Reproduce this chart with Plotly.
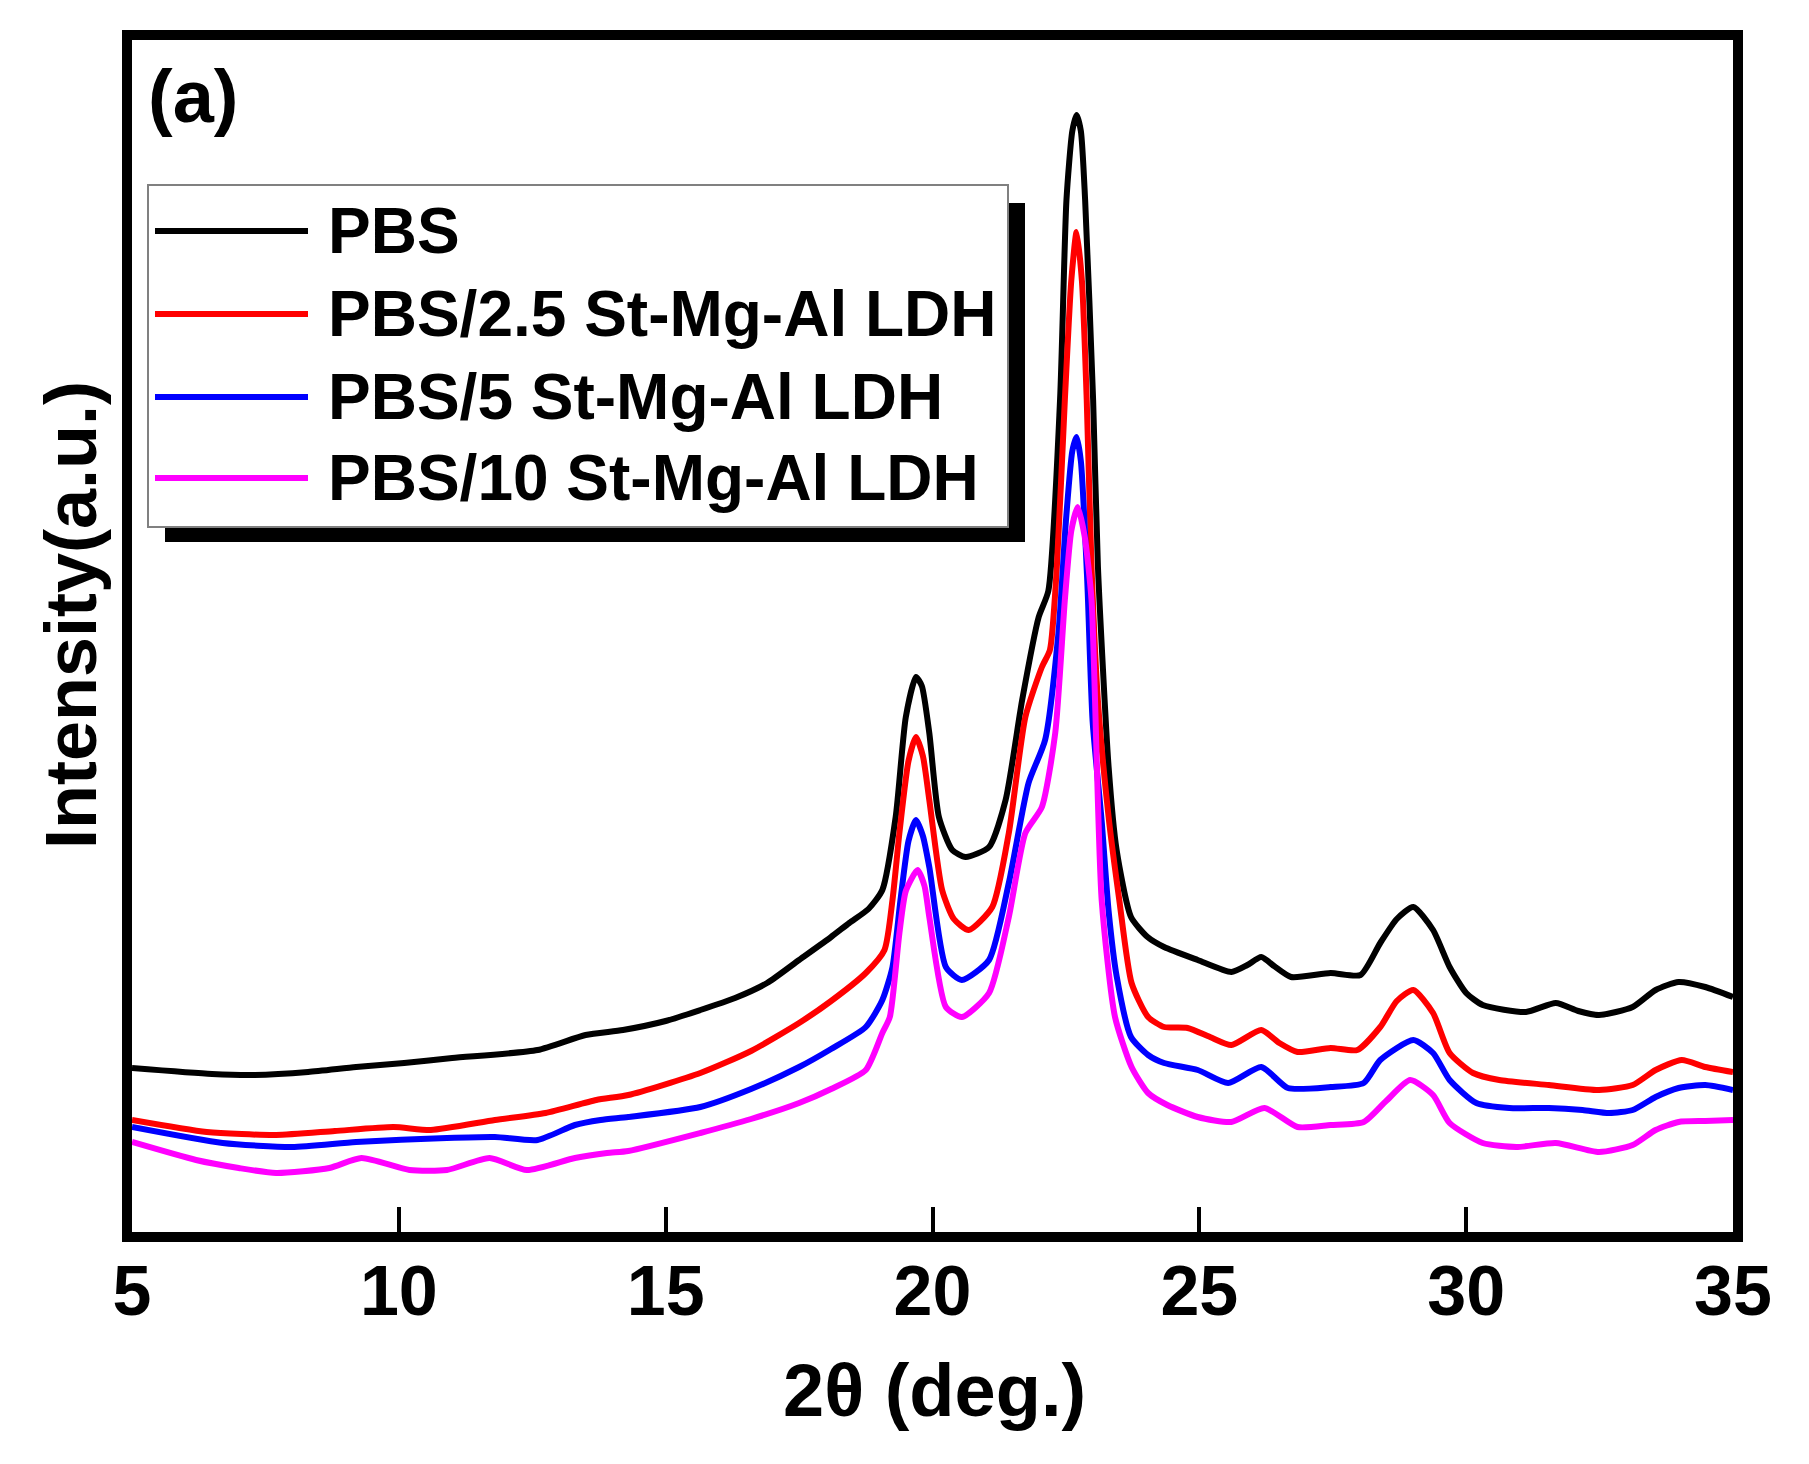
import plotly.graph_objects as go

# ---------------- data (2theta in degrees, intensity in arbitrary units) ----------------
pbs_x = [5.0, 6.5, 7.3, 8.3, 9.2, 10.1, 11.0, 12.6, 13.5, 14.2, 15.0, 15.65, 16.3, 16.9, 17.5, 18.1,
         18.44, 18.8, 19.06, 19.31, 19.5, 19.69, 19.8, 19.94, 20.12, 20.37, 20.62, 21.06, 21.37, 21.68,
         21.99, 22.17, 22.39, 22.51, 22.62, 22.70, 22.78, 22.86, 23.01, 23.1, 23.3, 23.45, 23.72, 24.03,
         24.34, 24.97, 25.6, 25.9, 26.16, 26.4, 26.72, 27.46, 28.02, 28.39, 28.7, 29.01, 29.38, 29.69,
         30.0, 30.31, 31.12, 31.68, 32.1, 32.49, 33.12, 33.55, 33.98, 34.48, 35.0]
pbs_y = [173, 167, 166, 169, 174, 178, 183, 191, 206, 211, 220, 231, 243, 258, 281, 304,
         318, 332, 351, 424, 524, 564, 555, 508, 424, 391, 384, 394, 441, 541,
         624, 650, 841, 1041, 1110, 1126, 1110, 1041, 841, 674, 474, 391, 324, 304,
         294, 281, 269, 276, 284, 275, 264, 268, 266, 298, 322, 334, 311, 274,
         248, 236, 229, 238, 230, 226, 234, 251, 259, 254, 244]

ldh25_x = [5.0, 6.4, 7.7, 8.8, 9.9, 10.6, 11.8, 12.75, 13.7, 14.3, 15.65, 16.6, 17.5, 18.1, 18.75,
           19.1, 19.25, 19.38, 19.55, 19.69, 19.82, 19.94, 20.18, 20.4, 20.68, 21.12, 21.43, 21.74,
           22.05, 22.2, 22.33, 22.48, 22.6, 22.70, 22.8, 22.89, 22.98, 23.1, 23.3, 23.5, 23.73, 24.04,
           24.34, 24.78, 25.2, 25.6, 26.16, 26.5, 26.84, 27.46, 27.96, 28.39, 28.7, 29.01, 29.38,
           29.69, 30.13, 30.62, 31.55, 32.49, 33.12, 33.55, 34.04, 34.48, 35.0]
ldh25_y = [121, 109, 106, 110, 114, 111, 121, 128, 141, 146, 168, 190, 218, 240, 268,
           291, 341, 408, 480, 504, 485, 441, 351, 322, 311, 334, 408, 524,
           574, 591, 674, 841, 960, 1009, 960, 841, 674, 540, 424, 341, 258, 224,
           214, 213, 204, 196, 211, 198, 189, 193, 191, 214, 240, 251, 228,
           188, 168, 161, 156, 151, 156, 171, 181, 174, 169]

ldh5_x = [5.0, 6.7, 8.0, 9.2, 10.9, 11.8, 12.6, 13.3, 13.78, 14.3, 15.65, 16.6, 17.5, 18.1, 18.75,
          19.06, 19.25, 19.4, 19.55, 19.69, 19.82, 19.94, 20.25, 20.55, 21.06, 21.43, 21.8, 22.11,
          22.36, 22.5, 22.62, 22.7, 22.78, 22.9, 23.0, 23.17, 23.3, 23.45, 23.72, 24.04, 24.34,
          24.97, 25.54, 26.16, 26.66, 27.46, 28.08, 28.39, 29.01, 29.38, 29.69, 30.19, 30.81,
          31.55, 32.18, 32.68, 33.12, 33.55, 33.98, 34.48, 35.0]
ldh5_y = [114, 98, 94, 99, 103, 104, 101, 116, 121, 124, 134, 152, 174, 192, 214,
          241, 274, 341, 400, 421, 405, 374, 274, 261, 281, 358, 458, 501,
          608, 720, 790, 804, 780, 660, 520, 420, 330, 265, 204, 186, 178,
          171, 158, 174, 153, 154, 158, 181, 201, 188, 161, 138, 133,
          133, 131, 128, 131, 144, 153, 156, 151]

ldh10_x = [5.0, 6.2, 7.0, 7.7, 8.7, 9.3, 10.2, 10.9, 11.7, 12.4, 13.3, 13.9, 14.3, 15.65, 16.6,
           17.5, 18.1, 18.75, 19.06, 19.2, 19.38, 19.5, 19.72, 19.85, 19.94, 20.25, 20.55, 21.06,
           21.43, 21.74, 22.05, 22.3, 22.48, 22.6, 22.72, 22.85, 22.98, 23.17, 23.42, 23.73, 24.04,
           24.4, 24.97, 25.6, 26.22, 26.84, 27.46, 28.08, 28.5, 28.95, 29.38, 29.69, 30.31, 30.94,
           31.68, 32.49, 33.12, 33.55, 33.98, 34.48, 35.0]
ldh10_y = [99, 81, 73, 68, 73, 83, 71, 71, 83, 71, 83, 88, 90, 108, 122,
           138, 152, 171, 208, 224, 308, 350, 371, 355, 324, 234, 224, 248,
           324, 408, 434, 508, 641, 710, 734, 705, 641, 341, 224, 174, 148,
           136, 124, 119, 133, 114, 116, 119, 140, 161, 146, 118, 98, 94,
           98, 89, 96, 111, 119, 120, 121]

series_names = ["PBS", "PBS/2.5 St-Mg-Al LDH", "PBS/5 St-Mg-Al LDH", "PBS/10 St-Mg-Al LDH"]
series_colors = ["#000000", "#ff0000", "#0000ff", "#ff00ff"]
tick_vals = [5, 10, 15, 20, 25, 30, 35]

# ---------------- figure ----------------
W, H = 1809, 1464
OFF = 8  # page body margin of the browser
L, T = 124, 32
PW, PH = 1601, 1192
R, B = W - L - PW, H - T - PH
FONT = "Liberation Sans, Arial, sans-serif"


def px(s):
    return (s - OFF - L) / PW


def py(s):
    return (T + PH - (s - OFF)) / PH


fig = go.Figure()
data = [(pbs_x, pbs_y), (ldh25_x, ldh25_y), (ldh5_x, ldh5_y), (ldh10_x, ldh10_y)]
for (xs, ys), name, col in zip(data, series_names, series_colors):
    fig.add_trace(go.Scatter(x=xs, y=ys, mode="lines", name=name,
                             line=dict(color=col, width=6, shape="spline", smoothing=0.6),
                             showlegend=False))

shapes = []
# legend shadow and box
shapes.append(dict(type="rect", xref="paper", yref="paper", x0=px(165), x1=px(1025),
                   y0=py(203), y1=py(542), fillcolor="black", line=dict(width=0)))
shapes.append(dict(type="rect", xref="paper", yref="paper", x0=px(148), x1=px(1008),
                   y0=py(185), y1=py(527), fillcolor="white", line=dict(color="#808080", width=2)))
rows = [231, 314, 397, 478]
annotations = []
for r, name, col in zip(rows, series_names, series_colors):
    shapes.append(dict(type="line", xref="paper", yref="paper", x0=px(155), x1=px(308),
                       y0=py(r), y1=py(r), line=dict(color=col, width=6)))
    annotations.append(dict(xref="paper", yref="paper", x=px(326), y=py(r), text=name,
                            showarrow=False, xanchor="left", yanchor="middle",
                            font=dict(family=FONT, size=64, color="black", weight="bold")))

annotations.append(dict(xref="paper", yref="paper", x=px(193), y=py(97), text="(a)",
                        showarrow=False, xanchor="center", yanchor="middle",
                        font=dict(family=FONT, size=74, color="black", weight="bold")))
annotations.append(dict(xref="paper", yref="paper", x=px(71), y=py(615), text="Intensity(a.u.)",
                        showarrow=False, xanchor="center", yanchor="middle", textangle=-90,
                        font=dict(family=FONT, size=72, color="black", weight="bold")))
annotations.append(dict(xref="paper", yref="paper", x=px(934), y=py(1390), text="2θ (deg.)",
                        showarrow=False, xanchor="center", yanchor="middle",
                        font=dict(family=FONT, size=74, color="black", weight="bold")))

fig.update_layout(
    width=W, height=H,
    margin=dict(l=L, r=R, t=T, b=B, pad=0),
    paper_bgcolor="white", plot_bgcolor="white",
    shapes=shapes, annotations=annotations,
    showlegend=False,
    xaxis=dict(range=[5, 35], tickvals=tick_vals, ticktext=[str(v) for v in tick_vals],
               ticks="inside", ticklen=25, tickwidth=4, tickcolor="black",
               showline=True, linewidth=10, linecolor="black", mirror=True,
               showgrid=False, zeroline=False, ticklabelstandoff=-11,
               tickfont=dict(family=FONT, size=70, color="black", weight="bold")),
    yaxis=dict(range=[9, 1201], showticklabels=False, ticks="",
               showline=True, linewidth=10, linecolor="black", mirror=True,
               showgrid=False, zeroline=False),
)

fig.write_html("out.html")
